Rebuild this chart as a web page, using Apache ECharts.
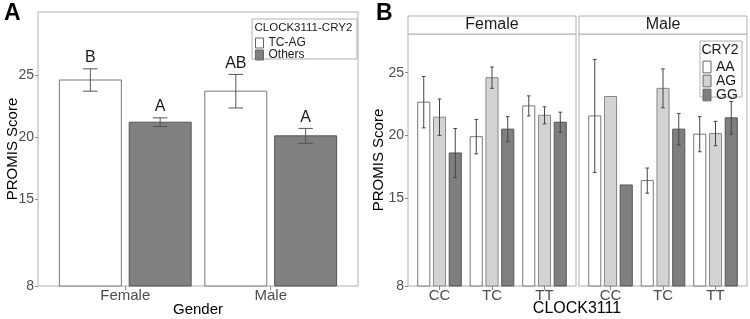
<!DOCTYPE html>
<html>
<head>
<meta charset="utf-8">
<script src="https://cdn.jsdelivr.net/npm/echarts@6/dist/echarts.min.js"></script>
<style>
  html, body { margin: 0; padding: 0; background: #fff; }
  #chart { width: 750px; height: 319px; }
</style>
</head>
<body>
<div id="chart"></div>
<script>
// panel A data
var genderCats = ['Female', 'Male'];
var tcagMean = [24.6, 23.7];
var tcagErr = [0.9, 1.35];
var tcagLetters = ['B', 'AB'];
var othersMean = [21.2, 20.1];
var othersErr = [0.35, 0.6];
var othersLetters = ['A', 'A'];
var yTicks = [8, 15, 20, 25];

// panel B data
var clockCats = ['CC', 'TC', 'TT'];
var femaleAA = [22.65, 19.9, 22.35];
var femaleAAErr = [2.05, 1.37, 0.8];
var femaleAG = [21.45, 24.6, 21.6];
var femaleAGErr = [1.45, 0.85, 0.68];
var femaleGG = [18.6, 20.5, 21.05];
var femaleGGErr = [1.95, 1.0, 0.8];
var maleAA = [21.55, 16.4, 20.1];
var maleAAErr = [4.5, 1.0, 1.4];
var maleAG = [23.1, 23.75, 20.15];
var maleAGErr = [0, 1.55, 0.97];
var maleGG = [16.05, 20.5, 21.4];
var maleGGErr = [0, 1.25, 1.3];

var font = 'Liberation Sans, Arial, sans-serif';
var chart = echarts.init(document.getElementById('chart'));

function toData(means, errs, offset) {
  return means.map(function (m, i) { return [i + 1 + offset, m, errs[i]]; });
}

function barRender(fill, stroke, halfW, whisker, errColor) {
  return function (params, api) {
    var x = api.value(0), m = api.value(1), e = api.value(2);
    var tl = api.coord([x - halfW, m]);
    var br = api.coord([x + halfW, 8]);
    var kids = [{
      type: 'rect',
      shape: { x: tl[0], y: tl[1], width: br[0] - tl[0], height: br[1] - tl[1] },
      style: { fill: fill, stroke: stroke, lineWidth: 1 }
    }];
    if (e > 0) {
      var top = api.coord([x, m + e]), bot = api.coord([x, m - e]);
      var wl = api.coord([x - whisker, m])[0], wr = api.coord([x + whisker, m])[0];
      var ls = { stroke: errColor, lineWidth: 1 };
      kids.push({ type: 'line', shape: { x1: top[0], y1: top[1], x2: bot[0], y2: bot[1] }, style: ls });
      kids.push({ type: 'line', shape: { x1: wl, y1: top[1], x2: wr, y2: top[1] }, style: ls });
      kids.push({ type: 'line', shape: { x1: wl, y1: bot[1], x2: wr, y2: bot[1] }, style: ls });
    }
    return { type: 'group', children: kids };
  };
}

function letterRender(letters) {
  return function (params, api) {
    var p = api.coord([api.value(0), api.value(1) + api.value(2)]);
    return {
      type: 'text',
      style: { text: letters[params.dataIndex], x: p[0], y: p[1] - 3, align: 'center', verticalAlign: 'bottom',
               fontSize: 16, fontFamily: font, fill: '#1a1a1a' }
    };
  };
}

function barSeries(name, xi, data, fill, stroke, halfW, whisker, errColor) {
  return {
    type: 'custom', name: name, xAxisIndex: xi, yAxisIndex: xi, data: data,
    itemStyle: { color: fill, borderColor: stroke, borderWidth: 1 },
    renderItem: barRender(fill, stroke, halfW, whisker, errColor)
  };
}

function xAxisOf(gi, max, cats, name) {
  return {
    gridIndex: gi, type: 'value', min: 0.4, max: max,
    axisLine: { show: false }, splitLine: { show: false },
    axisTick: { show: true, customValues: cats.map(function (c, i) { return i + 1; }), length: 4, lineStyle: { color: '#888' } },
    axisLabel: { customValues: cats.map(function (c, i) { return i + 1; }),
                 formatter: function (v) { return cats[Math.round(v) - 1]; },
                 fontSize: 15, color: '#4d4d4d', margin: 2, fontFamily: font },
    name: name, nameLocation: 'middle', nameGap: 16, nameMoveOverlap: false,
    nameTextStyle: { fontSize: 15, color: '#000', fontFamily: font }
  };
}

function yAxisOf(gi, max, showLabels, gap) {
  return {
    gridIndex: gi, type: 'value', min: 8, max: max,
    axisLine: { show: false }, splitLine: { show: false },
    axisTick: { show: showLabels, customValues: yTicks, length: 3, lineStyle: { color: '#888' } },
    axisLabel: { show: showLabels, customValues: yTicks, fontSize: 14, color: '#4d4d4d', margin: 4, fontFamily: font },
    name: showLabels ? 'PROMIS Score' : '', nameLocation: 'middle', nameGap: gap, nameMoveOverlap: false,
    nameTextStyle: { fontSize: 15, color: '#000', fontFamily: font }
  };
}

var frame = { show: true, borderColor: '#b0b0b0', borderWidth: 1, backgroundColor: 'transparent', outerBoundsMode: 'none', containLabel: false };

var option = {
  animation: false,
  textStyle: { fontFamily: font },
  grid: [
    Object.assign({ left: 38, width: 320, top: 12, height: 274 }, frame),
    Object.assign({ left: 408, width: 168, top: 34, height: 252 }, frame),
    Object.assign({ left: 579, width: 168, top: 34, height: 252 }, frame)
  ],
  xAxis: [
    xAxisOf(0, 2.6, genderCats, 'Gender'),
    xAxisOf(1, 3.6, clockCats, ''),
    xAxisOf(2, 3.6, clockCats, '')
  ],
  yAxis: [
    yAxisOf(0, 30.08, true, 18),
    yAxisOf(1, 28.08, true, 22),
    yAxisOf(2, 28.08, false, 0)
  ],
  legend: [
    {
      data: ['TC-AG', 'Others'], orient: 'vertical', left: 255, top: 37, padding: 0,
      itemWidth: 8, itemHeight: 10, itemGap: 0, icon: 'rect', selectedMode: false,
      itemStyle: { borderColor: '#666', borderWidth: 1 },
      textStyle: { fontSize: 12, color: '#1a1a1a', lineHeight: 10, fontFamily: font }
    },
    {
      data: ['AA', 'AG', 'GG'], orient: 'vertical', left: 702.5, top: 60, padding: 0,
      itemWidth: 8, itemHeight: 11.7, itemGap: 0, icon: 'rect', selectedMode: false,
      itemStyle: { borderColor: '#666', borderWidth: 1 },
      textStyle: { fontSize: 14, color: '#1a1a1a', lineHeight: 11, fontFamily: font }
    }
  ],
  graphic: [
    { type: 'text', left: 4, top: 2, style: { text: 'A', fontSize: 23, fontWeight: 'bold', fill: '#000', fontFamily: font } },
    { type: 'text', left: 376, top: 2, style: { text: 'B', fontSize: 23, fontWeight: 'bold', fill: '#000', fontFamily: font } },
    { type: 'rect', shape: { x: 252, y: 19, width: 105, height: 40 }, style: { fill: '#fff', stroke: '#b0b0b0', lineWidth: 1 }, z: -1 },
    { type: 'text', x: 254.5, y: 21.5, style: { text: 'CLOCK3111-CRY2', fontSize: 11.5, fill: '#1a1a1a', fontFamily: font } },
    { type: 'rect', shape: { x: 700, y: 41, width: 42, height: 56 }, style: { fill: '#fff', stroke: '#b0b0b0', lineWidth: 1 }, z: -1 },
    { type: 'text', x: 701.5, y: 43.5, style: { text: 'CRY2', fontSize: 14, fill: '#1a1a1a', fontFamily: font } },
    { type: 'rect', shape: { x: 408, y: 16, width: 168, height: 18 }, style: { fill: '#fff', stroke: '#b0b0b0', lineWidth: 1 } },
    { type: 'text', x: 492, y: 25, style: { text: 'Female', fontSize: 16, fill: '#1a1a1a', align: 'center', verticalAlign: 'middle', fontFamily: font } },
    { type: 'rect', shape: { x: 579, y: 16, width: 168, height: 18 }, style: { fill: '#fff', stroke: '#b0b0b0', lineWidth: 1 } },
    { type: 'text', x: 663, y: 25, style: { text: 'Male', fontSize: 16, fill: '#1a1a1a', align: 'center', verticalAlign: 'middle', fontFamily: font } },
    { type: 'text', x: 577, y: 308.5, style: { text: 'CLOCK3111', fontSize: 16, fill: '#000', align: 'center', verticalAlign: 'middle', fontFamily: font } }
  ],
  series: [
    barSeries('TC-AG', 0, toData(tcagMean, tcagErr, -0.24), '#ffffff', '#777777', 0.213, 0.05, '#555'),
    barSeries('Others', 0, toData(othersMean, othersErr, 0.24), '#808080', '#555555', 0.213, 0.05, '#555'),
    { type: 'custom', xAxisIndex: 0, yAxisIndex: 0, data: toData(tcagMean, tcagErr, -0.24), renderItem: letterRender(tcagLetters) },
    { type: 'custom', xAxisIndex: 0, yAxisIndex: 0, data: toData(othersMean, othersErr, 0.24), renderItem: letterRender(othersLetters) },

    barSeries('AA', 1, toData(femaleAA, femaleAAErr, -0.3), '#ffffff', '#777777', 0.115, 0.035, '#444'),
    barSeries('AG', 1, toData(femaleAG, femaleAGErr, 0), '#d3d3d3', '#888888', 0.115, 0.035, '#444'),
    barSeries('GG', 1, toData(femaleGG, femaleGGErr, 0.3), '#7f7f7f', '#555555', 0.115, 0.035, '#444'),
    barSeries('AA', 2, toData(maleAA, maleAAErr, -0.3), '#ffffff', '#777777', 0.115, 0.035, '#444'),
    barSeries('AG', 2, toData(maleAG, maleAGErr, 0), '#d3d3d3', '#888888', 0.115, 0.035, '#444'),
    barSeries('GG', 2, toData(maleGG, maleGGErr, 0.3), '#7f7f7f', '#555555', 0.115, 0.035, '#444')
  ]
};

chart.setOption(option);
</script>
</body>
</html>
